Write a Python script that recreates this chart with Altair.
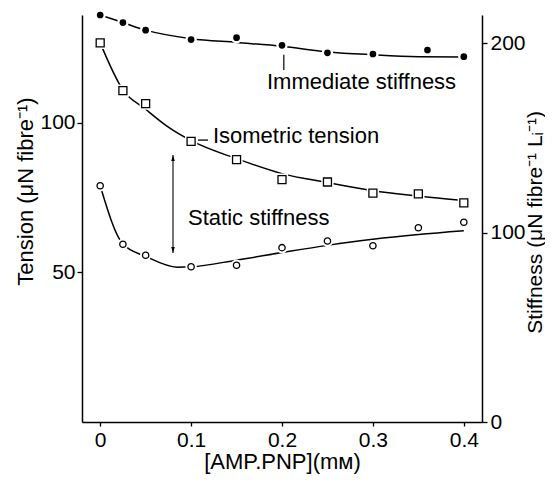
import altair as alt
import pandas as pd

# ---------------- data ----------------
x_ticks = [0, 0.1, 0.2, 0.3, 0.4]
left_ticks = [50, 100]
right_ticks = [0, 100, 200]

# measured points
conc = [0, 0.025, 0.05, 0.1, 0.15, 0.2, 0.25, 0.3, 0.35, 0.4]
iso_y = [126.7, 110.7, 106.4, 93.8, 87.7, 81.0, 80.2, 76.5, 76.2, 73.2]      # tension (left)
sta_y = [124.8, 93.9, 88.1, 82.0, 82.8, 92.1, 95.6, 93.1, 102.6, 105.5]      # stiffness (right)
imm_x = [0, 0.025, 0.05, 0.1, 0.15, 0.2, 0.25, 0.3, 0.36, 0.4]
imm_y = [215, 211, 207, 202, 203, 199, 195, 194.4, 196.5, 193]              # stiffness (right)

# hand-drawn smooth curves (vertices)
iso_curve_x = [0, 0.025, 0.05, 0.075, 0.1, 0.15, 0.2, 0.25, 0.3, 0.35, 0.4]
iso_curve_y = [126.7, 111, 104.5, 98.5, 94, 88, 83, 80, 77.3, 75.5, 74]
imm_curve_x = [0, 0.025, 0.05, 0.1, 0.15, 0.2, 0.25, 0.3, 0.35, 0.4]
imm_curve_y = [215, 211, 207, 202.5, 200.5, 198.5, 195.5, 194, 193, 192.8]
sta_curve_x = [0, 0.025, 0.05, 0.085, 0.1, 0.15, 0.2, 0.25, 0.3, 0.35, 0.4]
sta_curve_y = [124.8, 94, 87.5, 81.8, 82, 85.5, 89.5, 93.3, 96.5, 99, 101]

# annotations
iso_label = ["Isometric tension"]
iso_label_x = [0.124]
iso_label_y = [95.5]           # left units
iso_dash_x = [0.1076]
iso_dash_x2 = [0.1186]
iso_dash_y = [94.2]

right_labels = ["Immediate stiffness", "Static stiffness"]
right_labels_x = [0.1835, 0.0966]
right_labels_y = [179.6, 107.8]  # right units

imm_lead_x = [0.202]
imm_lead_y = [194.0]
imm_lead_y2 = [186.0]

arrow_x = [0.0801]
arrow_top = [141.0]
arrow_bottom = [89.3]

FONT = "Liberation Sans"

# ---------------- frames ----------------
iso_pts = pd.DataFrame({"x": conc, "v": iso_y})
sta_pts = pd.DataFrame({"x": conc, "v": sta_y})
imm_pts = pd.DataFrame({"x": imm_x, "v": imm_y})
iso_cur = pd.DataFrame({"x": iso_curve_x, "v": iso_curve_y})
imm_cur = pd.DataFrame({"x": imm_curve_x, "v": imm_curve_y})
sta_cur = pd.DataFrame({"x": sta_curve_x, "v": sta_curve_y})
iso_lab = pd.DataFrame({"x": iso_label_x, "v": iso_label_y, "t": iso_label})
iso_dash = pd.DataFrame({"x": iso_dash_x, "x2": iso_dash_x2, "v": iso_dash_y})
r_lab = pd.DataFrame({"x": right_labels_x, "v": right_labels_y, "t": right_labels})
imm_lead = pd.DataFrame({"x": imm_lead_x, "v": imm_lead_y, "v2": imm_lead_y2})
arrow = pd.DataFrame({"x": arrow_x, "v": arrow_top, "v2": arrow_bottom})
arrow_t = pd.DataFrame({"x": arrow_x, "v": arrow_top})
arrow_b = pd.DataFrame({"x": arrow_x, "v": arrow_bottom})


def X():
    return alt.X(
        "x:Q",
        scale=alt.Scale(domain=[-0.02, 0.42], nice=False, zero=False),
        axis=alt.Axis(values=x_ticks, format="~g", title="[AMP.PNP](mᴍ)",
                      tickSize=4, labelPadding=3, titleY=39, titleBaseline="middle"),
    )


def YL():
    return alt.Y(
        "v:Q",
        scale=alt.Scale(domain=[0, 136], nice=False, zero=False),
        axis=alt.Axis(values=left_ticks, orient="left", title="Tension (μN fibre⁻¹)",
                      tickSize=5, labelPadding=2, titleAngle=270, titleX=-57, titleY=176,
                      titleAlign="center", titleBaseline="middle"),
    )


def YR():
    return alt.Y(
        "v:Q",
        scale=alt.Scale(domain=[0, 215], nice=False, zero=False),
        axis=alt.Axis(values=right_ticks, orient="right", title="Stiffness (μN fibre⁻¹ Lᵢ⁻¹)",
                      tickSize=5, labelPadding=3, titleAngle=270, titleX=59, titleY=207,
                      titleFontSize=21, titleAlign="center", titleBaseline="alphabetic"),
    )


LW = 1.5
up_tri = "M 0 0 L -0.6 2 L 0.6 2 Z"
down_tri = "M 0 0 L -0.6 -2 L 0.6 -2 Z"

# ---------------- left (tension) group ----------------
left = alt.layer(
    alt.Chart(iso_cur).mark_line(interpolate="monotone", color="black", strokeWidth=LW).encode(x=X(), y=YL()),
    alt.Chart(iso_pts).mark_point(shape="square", filled=True, color="white", size=150, opacity=1).encode(x=X(), y=YL()),
    alt.Chart(iso_pts).mark_point(shape="square", filled=False, color="black", size=64, strokeWidth=1.3, opacity=1).encode(x=X(), y=YL()),
    alt.Chart(iso_dash).mark_rule(color="black", strokeWidth=1.3).encode(x=X(), x2="x2:Q", y=YL()),
    alt.Chart(iso_lab).mark_text(align="left", baseline="middle", font=FONT, fontSize=22, color="black").encode(x=X(), y=YL(), text="t:N"),
)

# ---------------- right (stiffness) group ----------------
right = alt.layer(
    alt.Chart(imm_cur).mark_line(interpolate="monotone", color="black", strokeWidth=LW).encode(x=X(), y=YR()),
    alt.Chart(sta_cur).mark_line(interpolate="monotone", color="black", strokeWidth=LW).encode(x=X(), y=YR()),
    alt.Chart(imm_pts).mark_point(shape="circle", filled=True, color="white", size=130, opacity=1).encode(x=X(), y=YR()),
    alt.Chart(sta_pts).mark_point(shape="circle", filled=True, color="white", size=130, opacity=1).encode(x=X(), y=YR()),
    alt.Chart(imm_pts).mark_point(shape="circle", filled=True, color="black", size=45, opacity=1).encode(x=X(), y=YR()),
    alt.Chart(sta_pts).mark_point(shape="circle", filled=False, color="black", size=40, strokeWidth=1.3, opacity=1).encode(x=X(), y=YR()),
    alt.Chart(imm_lead).mark_rule(color="black", strokeWidth=1.2).encode(x=X(), y=YR(), y2="v2:Q"),
    alt.Chart(arrow).mark_rule(color="black", strokeWidth=1.1).encode(x=X(), y=YR(), y2="v2:Q"),
    alt.Chart(arrow_t).mark_point(shape=up_tri, filled=True, color="black", size=36, opacity=1).encode(x=X(), y=YR()),
    alt.Chart(arrow_b).mark_point(shape=down_tri, filled=True, color="black", size=36, opacity=1).encode(x=X(), y=YR()),
    alt.Chart(r_lab).mark_text(align="left", baseline="middle", font=FONT, fontSize=22, color="black").encode(x=X(), y=YR(), text="t:N"),
)

chart = (
    alt.layer(left, right)
    .resolve_scale(y="independent")
    .properties(
        width=400,
        height=407,
        autosize=alt.AutoSizeParams(type="none"),
        padding={"left": 74, "top": 7, "right": 63, "bottom": 52},
    )
    .configure_view(stroke=None)
    .configure_axis(
        grid=False,
        domainColor="black",
        domainWidth=1.5,
        tickColor="black",
        tickWidth=1.3,
        labelColor="black",
        labelFont=FONT,
        labelFontSize=21,
        titleFont=FONT,
        titleFontSize=22,
        titleFontWeight="normal",
        titleColor="black",
    )
)

chart.save("out.html", embed_options={"renderer": "svg", "actions": False})
